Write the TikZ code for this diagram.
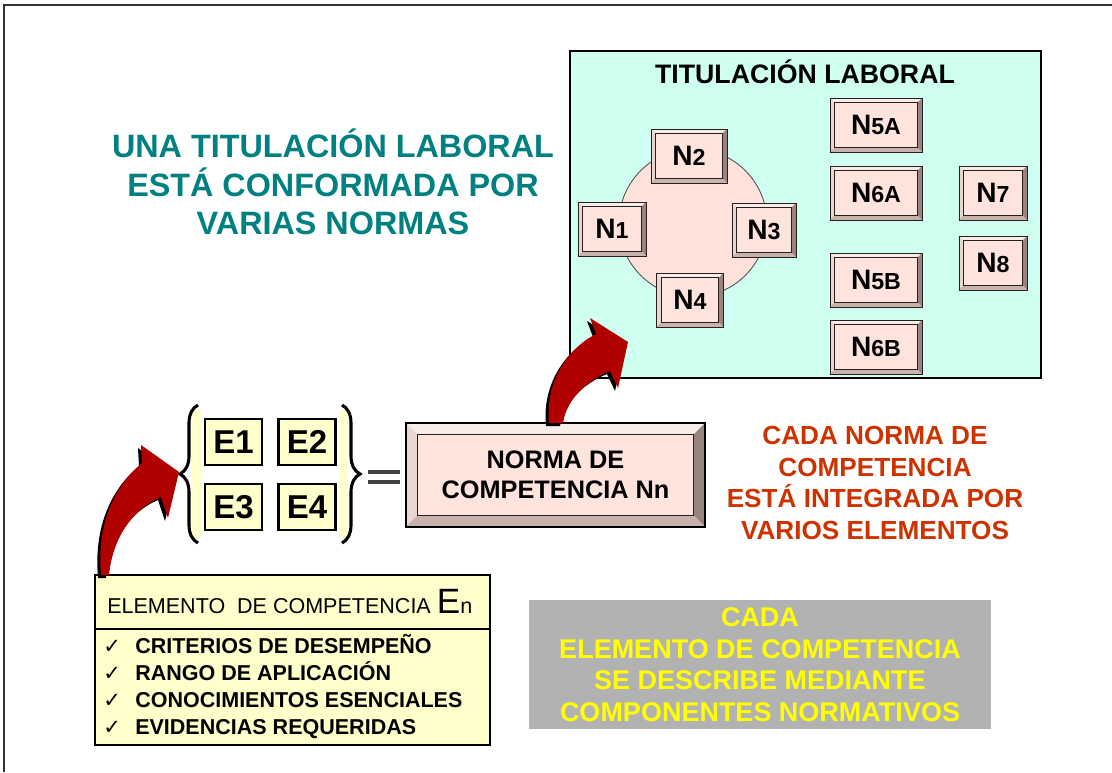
\documentclass[tikz,border=0pt]{standalone}
\usepackage{fontspec}
\setmainfont{Liberation Sans}
\newfontfamily\symfont{DejaVu Sans}
\usetikzlibrary{calc,positioning,decorations.pathreplacing}

\definecolor{panelcyan}{RGB}{206,255,240}
\definecolor{ringpink}{RGB}{255,226,220}
\definecolor{capface}{RGB}{255,228,222}
\definecolor{captop}{RGB}{248,236,232}
\definecolor{capleft}{RGB}{232,214,208}
\definecolor{capright}{RGB}{152,132,126}
\definecolor{capbottom}{RGB}{200,178,172}
\definecolor{capedge}{RGB}{40,30,30}
\definecolor{tealtxt}{RGB}{0,128,128}
\definecolor{redtxt}{RGB}{204,51,0}
\definecolor{boxgray}{RGB}{178,178,178}
\definecolor{yeltxt}{RGB}{255,255,0}
\definecolor{lightyel}{RGB}{255,255,204}
\definecolor{arrowred}{RGB}{176,0,0}

\tikzset{keycap/.style={draw=capedge,fill=capface,line width=0.6pt,inner sep=0pt,font=\bfseries,
    path picture={
      \path (path picture bounding box.south west) coordinate (sw)
            (path picture bounding box.north east) coordinate (ne);
      \fill[captop] (sw|-ne) -- (ne) -- ++(-#1,-#1) -- ($(sw|-ne)+(#1,-#1)$) -- cycle;
      \fill[capleft] (sw) -- (sw|-ne) -- ++(#1,-#1) -- ($(sw)+(#1,#1)$) -- cycle;
      \fill[capright] (ne) -- (ne|-sw) -- ++(-#1,#1) -- ($(ne)+(-#1,-#1)$) -- cycle;
      \fill[capbottom] (sw) -- (ne|-sw) -- ++(-#1,#1) -- ($(sw)+(#1,#1)$) -- cycle;
      \draw[capedge,line width=0.7pt] ($(sw)+(#1,#1)$) rectangle ($(ne)+(-#1,-#1)$);
    }},
  keycap/.default=3.5pt}

\newcommand{\nlab}[1]{{\fontsize{20}{20}\selectfont N}{\fontsize{16.5}{16.5}\selectfont #1}}

\begin{document}
\begin{tikzpicture}[x=0.025cm,y=-0.025cm,
  smallcap/.style={keycap,minimum width=48.4pt,minimum height=38.4pt},
  widecap/.style={keycap,minimum width=65.4pt,minimum height=38.4pt},
  ebox/.style={draw=black,line width=1.5pt,fill=lightyel,minimum width=40.5pt,minimum height=32.6pt,inner sep=0pt,font=\bfseries\fontsize{23.5}{23.5}\selectfont},
  bracestyle/.style={draw=black,line width=2.2pt,decorate},
  eqbar/.style={draw=black!75,line width=2.2pt},
  listtxt/.style={anchor=base west,inner sep=0pt,font=\bfseries\fontsize{15.3}{15.3}\selectfont},
  checktxt/.style={anchor=base west,inner sep=0pt,font=\symfont\fontsize{15}{15}\selectfont},
  bigarrow/.style={fill=arrowred},
  arrowshade/.style={fill=black}]
		\useasboundingbox (0,0) rectangle (1112,772);
		%frame
		\draw [line width=1.2pt,black!80] (4,772) -- (4,5) -- (1112,5);

		%%titulacion panel
		\draw [fill=panelcyan,line width=0.8pt] (570,51) rectangle (1041,378);
		\node [anchor=base,inner sep=0pt,font=\bfseries\fontsize{19}{19}\selectfont] (title) at (805,83) {TITULACIÓN LABORAL};
		\node [circle,draw=black!70,fill=ringpink,line width=0.6pt,minimum size=105.3pt] (ring) at (693,223) {};
		\node [smallcap,minimum width=54pt] (n2) at (689,156) {\nlab{2}};
		\node [smallcap] (n1) at (612,229) {\nlab{1}};
		\node [smallcap,minimum width=45.5pt] (n3) at (764,230) {\nlab{3}};
		\node [smallcap,minimum width=47.7pt] (n4) at (690,300) {\nlab{4}};
		\node [widecap] (n5a) at (876,125) {\nlab{5A}};
		\node [widecap] (n6a) at (876,193) {\nlab{6A}};
		\node [widecap] (n5b) at (876,280) {\nlab{5B}};
		\node [widecap] (n6b) at (876,347) {\nlab{6B}};
		\node [smallcap] (n7) at (993,193) {\nlab{7}};
		\node [smallcap] (n8) at (993,263) {\nlab{8}};

		%%notes
		\node [align=center,text=tealtxt,font=\bfseries\fontsize{23}{27.4}\selectfont] (tealnote) at (333,182) {UNA TITULACIÓN LABORAL\\ESTÁ CONFORMADA POR\\VARIAS NORMAS};
		\node [align=center,text=redtxt,font=\bfseries\fontsize{18.6}{22.5}\selectfont] (rednote) at (875,483) {CADA NORMA DE\\COMPETENCIA\\ESTÁ INTEGRADA POR\\VARIOS ELEMENTOS};
		\node [fill=boxgray,minimum width=328.6pt,minimum height=91.8pt,align=center,text=yeltxt,font=\bfseries\fontsize{19.2}{22.4}\selectfont] (cada) at (760,664.5) {CADA\\ELEMENTO DE COMPETENCIA\\SE DESCRIBE MEDIANTE\\COMPONENTES NORMATIVOS};

		%%elements
		\fill [lightyel] (192,410) rectangle (201,538);
		\fill [lightyel] (339,410) rectangle (348,538);
		\draw [bracestyle,decoration={brace,amplitude=12.8pt}] (198,543) -- (198,405);
		\draw [bracestyle,decoration={brace,amplitude=12.8pt}] (342,405) -- (342,543);
		\node [ebox] (e1) at (233.5,442) {E1};
		\node [ebox] (e2) at (307,442) {E2};
		\node [ebox] (e3) at (233.5,507) {E3};
		\node [ebox] (e4) at (307,507) {E4};
		\draw [eqbar] (368,472) -- (400,472);
		\draw [eqbar] (368,482) -- (400,482);

		%%norma
		\node [keycap=8pt,draw=black,line width=1.4pt,minimum width=212.7pt,minimum height=74pt,align=center,font=\bfseries\fontsize{18}{21.3}\selectfont] (norma) at (555.5,475) {NORMA DE\\COMPETENCIA Nn};

		%%elemento box
		\node [draw=black,line width=1.5pt,fill=lightyel,minimum width=281pt,minimum height=121pt] (elem) at (292.5,660) {};
		\draw [line width=2pt] (95,629) -- (490,629);
		\node [listtxt,font=\fontsize{15.3}{15.3}\selectfont] (elemhead) at (107,613) {ELEMENTO\ \ DE COMPETENCIA {\fontsize{25}{25}\selectfont E}n};
		\node [checktxt] (c1) at (103,653) {✓};
		\node [checktxt] (c2) at (103,680) {✓};
		\node [checktxt] (c3) at (103,707) {✓};
		\node [checktxt] (c4) at (103,734) {✓};
		\node [listtxt] (l1) at (135,653) {CRITERIOS DE DESEMPEÑO};
		\node [listtxt] (l2) at (135,680) {RANGO DE APLICACIÓN};
		\node [listtxt] (l3) at (135,707) {CONOCIMIENTOS ESENCIALES};
		\node [listtxt] (l4) at (135,734) {EVIDENCIAS REQUERIDAS};

		%%arrows
		\fill [arrowshade,shift={(-3,3)}] (101,575) .. controls (97,530) and (110,490) .. (142,463) -- (141,445) -- (179,472) -- (168,518) -- (161,497) .. controls (135,508) and (113,535) .. (109,575) -- cycle;
		\fill [bigarrow] (101,575) .. controls (97,530) and (110,490) .. (142,463) -- (141,445) -- (179,472) -- (168,518) -- (161,497) .. controls (135,508) and (113,535) .. (109,575) -- cycle;
		\fill [arrowshade,shift={(-3,3)}] (549,423) .. controls (545,385) and (565,350) .. (596,334) -- (590,318) -- (628,342) -- (618,388) -- (610,371) .. controls (588,380) and (567,398) .. (563,423) -- cycle;
		\fill [bigarrow] (549,423) .. controls (545,385) and (565,350) .. (596,334) -- (590,318) -- (628,342) -- (618,388) -- (610,371) .. controls (588,380) and (567,398) .. (563,423) -- cycle;
	\end{tikzpicture}
\end{document}
